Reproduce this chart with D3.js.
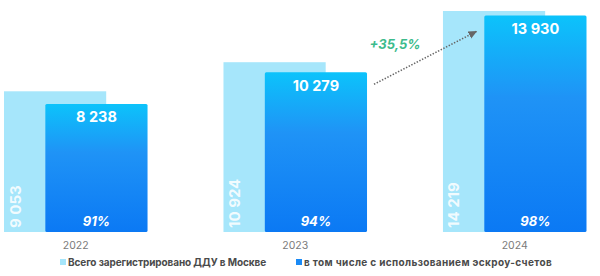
<!DOCTYPE html>
<html>
<head>
<meta charset="utf-8">
<script src="https://cdn.jsdelivr.net/npm/d3@7"></script>
<style>
  html, body { margin: 0; padding: 0; background: #fff; }
  svg { display: block; font-family: Inter, "Noto Sans", sans-serif; }
</style>
</head>
<body>
<div id="chart"></div>
<script>
// data
const years = ['2022', '2023', '2024'];
const totalDdu = [9053, 10924, 14219];
const escrowDdu = [8238, 10279, 13930];
const escrowShare = ['91%', '94%', '98%'];
const growthLabel = '+35,5%';
const legendLabels = ['Всего зарегистрировано ДДУ в Москве', 'в том числе с использованием эскроу-счетов'];

const width = 600, height = 276;
const fmt = v => d3.format(',')(v).replace(/,/g, ' ');

const svg = d3.select('#chart').append('svg')
    .attr('width', width)
    .attr('height', height);

const defs = svg.append('defs');
const grad = defs.append('linearGradient')
    .attr('id', 'blueGrad')
    .attr('x1', 0).attr('y1', 0).attr('x2', 0).attr('y2', 1);
grad.append('stop').attr('offset', '0%').attr('stop-color', '#0cc3fb');
grad.append('stop').attr('offset', '38%').attr('stop-color', '#1f93f6');
grad.append('stop').attr('offset', '100%').attr('stop-color', '#0b79f4');

defs.append('marker')
    .attr('id', 'arrowHead')
    .attr('viewBox', '0 0 10 10')
    .attr('refX', 8).attr('refY', 5)
    .attr('markerWidth', 6).attr('markerHeight', 6)
    .attr('orient', 'auto')
    .append('path')
    .attr('d', 'M0,1 L9,5 L0,9 Z')
    .attr('fill', '#666');

// scales
const x = d3.scaleBand()
    .domain(years)
    .range([4, 586.5])
    .paddingInner(0.346)
    .paddingOuter(0);

const barW = x.bandwidth() * 0.712;
const y = d3.scaleLinear()
    .domain([0, 14219])
    .range([232, 11]);

const rows = years.map((yr, i) => ({
    year: yr, total: totalDdu[i], escrow: escrowDdu[i], share: escrowShare[i]
}));

// light bars (total)
svg.selectAll('rect.total')
    .data(rows)
    .enter()
    .append('rect')
    .attr('class', 'total')
    .attr('x', d => x(d.year))
    .attr('y', d => y(d.total))
    .attr('width', barW)
    .attr('height', d => y(0) - y(d.total))
    .attr('fill', '#a6e6fb');

// dark bars (escrow)
svg.selectAll('rect.escrow')
    .data(rows)
    .enter()
    .append('rect')
    .attr('class', 'escrow')
    .attr('x', d => x(d.year) + x.bandwidth() - barW)
    .attr('y', d => y(d.escrow))
    .attr('width', barW)
    .attr('height', d => y(0) - y(d.escrow))
    .attr('rx', 1.5)
    .attr('fill', 'url(#blueGrad)');

// rotated labels on light bars
svg.selectAll('text.total-label')
    .data(rows)
    .enter()
    .append('text')
    .attr('class', 'total-label')
    .attr('transform', d => 'translate(' + (x(d.year) + 16.5) + ',' + (y(0) - 4) + ') rotate(-90)')
    .attr('fill', '#ffffff')
    .attr('fill-opacity', 0.85)
    .attr('font-size', 15)
    .attr('font-weight', 700)
    .text(d => fmt(d.total));

// value labels on dark bars
svg.selectAll('text.escrow-label')
    .data(rows)
    .enter()
    .append('text')
    .attr('class', 'escrow-label')
    .attr('x', d => x(d.year) + x.bandwidth() - barW / 2)
    .attr('y', d => y(d.escrow) + 18.5)
    .attr('text-anchor', 'middle')
    .attr('fill', '#fff')
    .attr('font-size', 14.5)
    .attr('font-weight', 700)
    .text(d => fmt(d.escrow));

// share labels
svg.selectAll('text.share-label')
    .data(rows)
    .enter()
    .append('text')
    .attr('class', 'share-label')
    .attr('x', d => x(d.year) + x.bandwidth() - barW / 2)
    .attr('y', y(0) - 6)
    .attr('text-anchor', 'middle')
    .attr('fill', '#fff')
    .attr('font-size', 13)
    .attr('font-weight', 700)
    .attr('font-style', 'italic')
    .text(d => d.share);

// year axis labels
svg.selectAll('text.year')
    .data(rows)
    .enter()
    .append('text')
    .attr('class', 'year')
    .attr('x', d => x(d.year) + x.bandwidth() / 2)
    .attr('y', 249)
    .attr('text-anchor', 'middle')
    .attr('fill', '#7a7a7a')
    .attr('font-size', 10.5)
    .text(d => d.year);

// growth arrow 2023 -> 2024
const a = rows[1], b = rows[2];
svg.append('line')
    .attr('x1', x(a.year) + x.bandwidth() + 7)
    .attr('y1', y(a.escrow) + 12)
    .attr('x2', x(b.year) + x.bandwidth() - barW - 8)
    .attr('y2', y(b.escrow) + 16)
    .attr('stroke', '#666')
    .attr('stroke-width', 1.6)
    .attr('stroke-dasharray', '1.4,1.6')
    .attr('marker-end', 'url(#arrowHead)');

svg.append('text')
    .attr('x', 395)
    .attr('y', 49)
    .attr('text-anchor', 'middle')
    .attr('fill', '#3dbb8c')
    .attr('font-size', 13)
    .attr('font-weight', 700)
    .attr('font-style', 'italic')
    .text(growthLabel);

// legend
const legendX = [60, 296];
const legendColors = ['#a6e6fb', '#1a8af5'];
const legendSpacing = [-0.1, 0.35];
const legend = svg.selectAll('g.legend')
    .data(legendLabels)
    .enter()
    .append('g')
    .attr('class', 'legend')
    .attr('transform', (d, i) => 'translate(' + legendX[i] + ',266)');

legend.append('rect')
    .attr('x', 0).attr('y', -7)
    .attr('width', 6).attr('height', 6)
    .attr('fill', (d, i) => legendColors[i]);

legend.append('text')
    .attr('x', 8)
    .attr('y', 0)
    .attr('fill', '#4a4a4a')
    .attr('font-size', 10)
    .attr('font-weight', 700)
    .attr('letter-spacing', (d, i) => legendSpacing[i])
    .text(d => d);
</script>
</body>
</html>
